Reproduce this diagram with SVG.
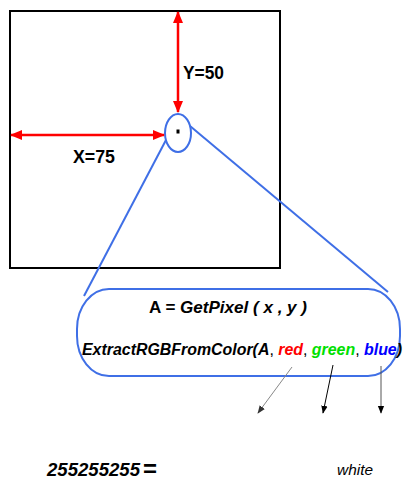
<svg xmlns="http://www.w3.org/2000/svg" width="404" height="487" viewBox="0 0 404 487">
<defs>
<marker id="redHead" viewBox="0 0 12 10" refX="11" refY="5" markerWidth="12" markerHeight="10" markerUnits="userSpaceOnUse" orient="auto-start-reverse">
<path d="M0,0 L12,5 L0,10 Z" fill="#ff0000"/>
</marker>
<marker id="blackHead" viewBox="0 0 10 10" refX="9" refY="5" markerWidth="8" markerHeight="8" markerUnits="userSpaceOnUse" orient="auto">
<path d="M0,1 L10,5 L0,9 Z" fill="#000"/>
</marker>
<marker id="grayHead" viewBox="0 0 10 10" refX="9" refY="5" markerWidth="8" markerHeight="8" markerUnits="userSpaceOnUse" orient="auto">
<path d="M0,1 L10,5 L0,9 Z" fill="#333"/>
</marker>
</defs>
<style>
.lbl{font-family:"Liberation Sans",Arial,sans-serif;font-weight:bold;fill:#000}
.red{stroke:#ff0000;stroke-width:2.5;fill:none}
.blue{stroke:#3f6fe6;stroke-width:2;fill:none}
</style>
<rect width="404" height="487" fill="#fff"/>
<g id="image">
<rect x="10" y="11" width="270" height="257" fill="none" stroke="#000" stroke-width="2"/>
</g>
<g id="pixel">
<ellipse cx="178" cy="133" rx="13" ry="19" class="blue" stroke-width="2.5"/>
<rect x="176.5" y="129.5" width="3" height="4" fill="#000"/>
</g>
<g id="callout">
<rect x="77" y="289" width="323" height="87" rx="32" ry="40" class="blue"/>
<text class="lbl" x="149" y="313" font-size="17" textLength="158" lengthAdjust="spacingAndGlyphs">A = <tspan font-style="italic">GetPixel ( x , y )</tspan></text>
<text class="lbl" x="82" y="355" font-size="16" font-style="italic" textLength="320" lengthAdjust="spacingAndGlyphs">ExtractRGBFromColor(A<tspan font-style="normal" font-weight="normal">, </tspan><tspan fill="#ff0000">red</tspan><tspan font-style="normal" font-weight="normal">, </tspan><tspan fill="#00e000">green</tspan><tspan font-style="normal" font-weight="normal">, </tspan><tspan fill="#0000ff">blue</tspan>)</text>
</g>
<g id="labels">
<text class="lbl" x="183" y="79" font-size="19" textLength="41" lengthAdjust="spacingAndGlyphs">Y=50</text>
<text class="lbl" x="73" y="163" font-size="19" textLength="42" lengthAdjust="spacingAndGlyphs">X=75</text>
<text class="lbl" x="47" y="476" font-size="19" font-style="italic" textLength="93" lengthAdjust="spacingAndGlyphs">255255255</text>
<text class="lbl" x="143" y="477" font-size="24">=</text>
<text x="337" y="475" font-family="'Liberation Sans',Arial,sans-serif" font-size="15" font-style="italic" textLength="36" lengthAdjust="spacingAndGlyphs">white</text>
</g>
<g id="connectors">
<line x1="178" y1="12" x2="178" y2="112" class="red" marker-start="url(#redHead)" marker-end="url(#redHead)"/>
<line x1="11" y1="135" x2="164" y2="135" class="red" marker-start="url(#redHead)" marker-end="url(#redHead)"/>
<path d="M166,140 L84,296" class="blue"/>
<path d="M190,126 L388,292" class="blue"/>
<line x1="292" y1="367" x2="258" y2="413" stroke="#888" stroke-width="1" marker-end="url(#grayHead)"/>
<line x1="333" y1="365" x2="323" y2="413" stroke="#000" stroke-width="1" marker-end="url(#blackHead)"/>
<line x1="381" y1="366" x2="381" y2="413" stroke="#555" stroke-width="1" marker-end="url(#blackHead)"/>
</g>
</svg>
